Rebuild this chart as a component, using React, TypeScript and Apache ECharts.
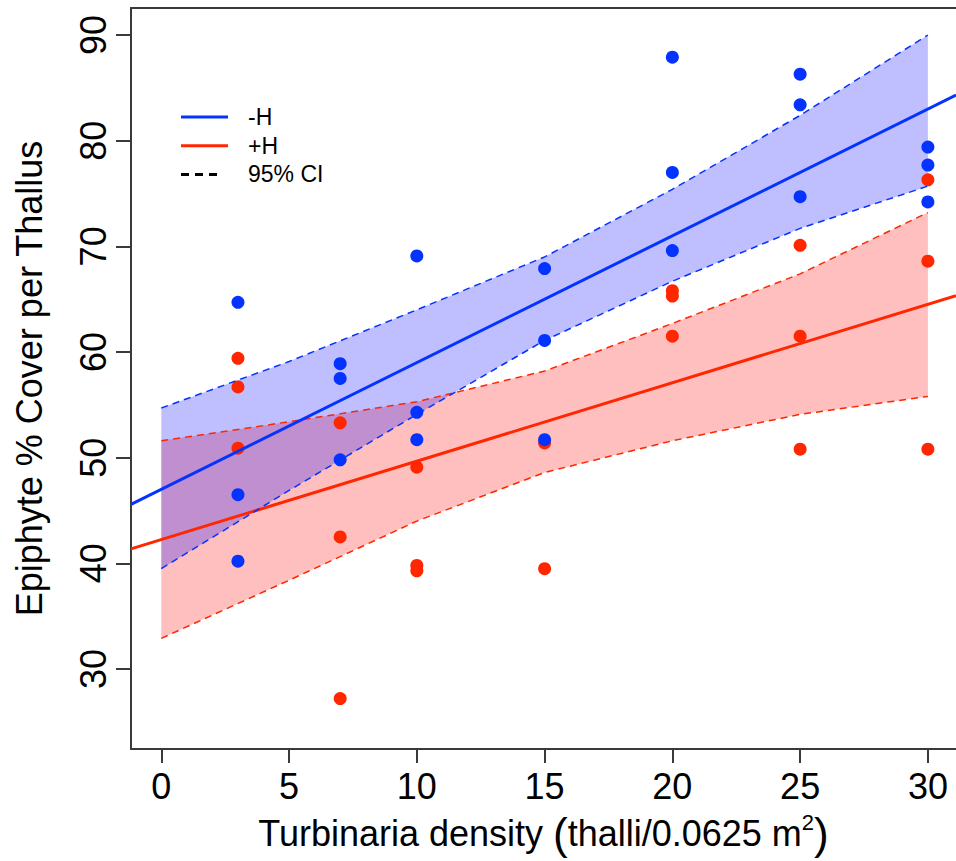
import React, { useEffect, useRef } from "react";
import * as echarts from "echarts";

// ---- data ----
const xTicks = [0, 5, 10, 15, 20, 25, 30];
const yTicks = [30, 40, 50, 60, 70, 80, 90];

// -H (no herbivores) observations
const blueX = [3, 3, 3, 7, 7, 7, 10, 10, 10, 15, 15, 15, 20, 20, 20, 25, 25, 25, 30, 30, 30];
const blueY = [64.7, 46.5, 40.2, 58.9, 57.5, 49.8, 69.1, 54.3, 51.7, 67.9, 61.1, 51.7, 87.9, 77.0, 69.6, 86.3, 83.4, 74.7, 79.4, 77.7, 74.2];

// +H observations
const redX = [3, 3, 3, 7, 7, 7, 10, 10, 10, 15, 15, 20, 20, 20, 25, 25, 25, 30, 30, 30];
const redY = [59.4, 56.7, 50.9, 53.3, 42.5, 27.2, 49.1, 39.8, 39.3, 51.4, 39.5, 65.8, 65.3, 61.5, 70.1, 61.5, 50.8, 76.3, 68.6, 50.8];

// 95% confidence bands
const ciX = [0, 5, 10, 15, 20, 25, 30];
const blueUpper = [54.7, 59.1, 64.0, 69.0, 75.4, 82.4, 90.0];
const blueLower = [39.5, 46.9, 54.1, 61.1, 66.7, 71.7, 75.7];
const redUpper = [51.6, 53.4, 55.3, 58.2, 62.7, 67.4, 73.2];
const redLower = [32.9, 38.4, 44.0, 48.6, 51.6, 54.1, 55.8];

// fitted regression lines (intercept, slope)
const blueFit = [47.0, 1.2];
const redFit = [42.25, 0.742];

// axis extents
const xMin = -1.186;
const xMax = 31.1;
const yMin = 22.43;
const yMax = 92.56;

const BLUE = "#0433ff";
const RED = "#ff2600";
const FONT = "'Liberation Sans', Arial, Helvetica, sans-serif";
const AXIS = "#3a3a3a";

function bandSeries(upper: number[], lower: number[], fill: string) {
  return {
    type: "custom",
    silent: true,
    clip: true,
    data: [[ciX[0], lower[0]]],
    renderItem: (_params: any, api: any) => {
      const top = ciX.map((x, i) => api.coord([x, upper[i]]));
      const bot = ciX.map((x, i) => api.coord([x, lower[i]])).reverse();
      return {
        type: "polygon",
        shape: { points: top.concat(bot) },
        style: { fill },
      };
    },
  };
}

function dashSeries(vals: number[], color: string) {
  return {
    type: "line",
    silent: true,
    showSymbol: false,
    symbol: "none",
    data: ciX.map((x, i) => [x, vals[i]]),
    lineStyle: { color, width: 1.5, type: [7, 5] },
  };
}

function fitSeries(fit: number[], color: string) {
  return {
    type: "line",
    silent: true,
    showSymbol: false,
    symbol: "none",
    data: [xMin, xMax].map((x) => [x, fit[0] + fit[1] * x]),
    lineStyle: { color, width: 3 },
  };
}

function scatterSeries(xs: number[], ys: number[], color: string) {
  return {
    type: "scatter",
    silent: true,
    symbol: "circle",
    symbolSize: 13,
    data: xs.map((x, i) => [x, ys[i]]),
    itemStyle: { color, opacity: 1 },
  };
}

export default function App() {
  const ref = useRef<HTMLDivElement>(null);
  useEffect(() => {
    if (!ref.current) return;
    const chart = echarts.init(ref.current, undefined, { renderer: "svg" });
    const legendRows = [
      { label: "-H", color: BLUE, dash: null as any, len: 47 },
      { label: "+H", color: RED, dash: null as any, len: 47 },
      { label: "95% CI", color: "#000", dash: [8, 6], len: 38 },
    ];
    const graphic: any[] = [];
    legendRows.forEach((r, i) => {
      const y = 117 + i * 28.7;
      graphic.push({
        type: "line",
        silent: true,
        shape: { x1: 181, y1: y, x2: 181 + r.len, y2: y },
        style: { stroke: r.color, lineWidth: 3, lineDash: r.dash || undefined },
      });
      graphic.push({
        type: "text",
        silent: true,
        x: 248,
        y: y,
        style: {
          text: r.label,
          fill: "#000",
          font: `23px ${FONT}`,
          textVerticalAlign: "middle",
          verticalAlign: "middle",
          textAlign: "left",
          align: "left",
        },
      });
    });

    const option: any = {
      animation: false,
      backgroundColor: "#fff",
      grid: { left: 131, top: 8, right: 0, bottom: 112, containLabel: false, outerBoundsMode: "none" },
      xAxis: [
        {
          type: "value",
          min: xMin,
          max: xMax,
          splitLine: { show: false },
          axisLine: { show: true, onZero: false, lineStyle: { color: AXIS, width: 2 } },
          axisTick: { show: true, length: 14, customValues: xTicks, lineStyle: { color: AXIS, width: 2 } },
          axisLabel: {
            customValues: xTicks,
            margin: 19,
            color: "#000",
            fontSize: 36,
            fontFamily: FONT,
            formatter: (v: number) => String(v),
          },
          name: "Turbinaria density {p|(}thalli/0.0625 m{sup|2}{p|)}",
          nameLocation: "middle",
          nameGap: 62,
          nameTextStyle: {
            color: "#000",
            fontSize: 36,
            fontFamily: FONT,
            rich: {
              sup: { fontSize: 22, fontFamily: FONT, color: "#000", verticalAlign: "top", padding: [0, 0, 16, 0] },
              p: { fontSize: 44, fontFamily: FONT, color: "#000", fontWeight: 100 },
            },
          },
        },
        {
          type: "value",
          position: "top",
          min: xMin,
          max: xMax,
          splitLine: { show: false },
          axisLine: { show: true, onZero: false, lineStyle: { color: AXIS, width: 2 } },
          axisTick: { show: false },
          axisLabel: { show: false },
        },
      ],
      yAxis: {
        type: "value",
        min: yMin,
        max: yMax,
        splitLine: { show: false },
        axisLine: { show: true, onZero: false, lineStyle: { color: AXIS, width: 2 } },
        axisTick: { show: true, length: 15, customValues: yTicks, lineStyle: { color: AXIS, width: 2 } },
        axisLabel: {
          customValues: yTicks,
          rotate: 90,
          margin: 20,
          color: "#000",
          fontSize: 36,
          fontFamily: FONT,
          formatter: (v: number) => String(v),
        },
        name: "Epiphyte % Cover per Thallus",
        nameLocation: "middle",
        nameGap: 84,
        nameTextStyle: { color: "#000", fontSize: 36, fontFamily: FONT },
      },
      series: [
        bandSeries(redUpper, redLower, "rgba(255,0,0,0.25)"),
        dashSeries(redUpper, RED),
        dashSeries(redLower, RED),
        scatterSeries(redX, redY, RED),
        fitSeries(redFit, RED),
        bandSeries(blueUpper, blueLower, "rgba(0,0,255,0.25)"),
        dashSeries(blueUpper, BLUE),
        dashSeries(blueLower, BLUE),
        scatterSeries(blueX, blueY, BLUE),
        fitSeries(blueFit, BLUE),
      ],
      graphic,
    };
    chart.setOption(option);
    return () => chart.dispose();
  }, []);
  return (
    <div
      ref={ref}
      style={{ position: "absolute", left: 0, top: 0, width: 956, height: 861, background: "#fff" }}
    />
  );
}
